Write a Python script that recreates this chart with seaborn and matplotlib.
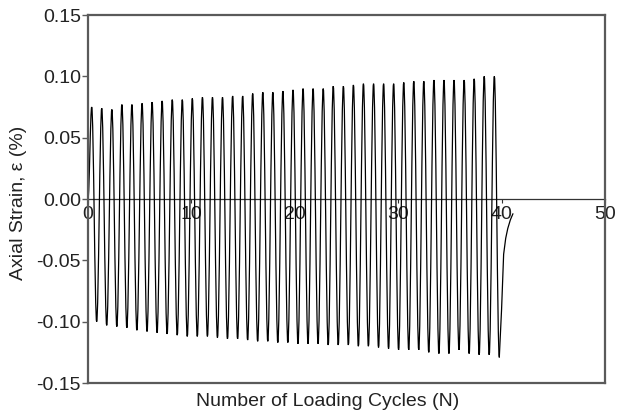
import numpy as np
import pandas as pd
import matplotlib
matplotlib.use("Agg")
import matplotlib.pyplot as plt
from matplotlib.path import Path
from matplotlib.patches import PathPatch
import seaborn as sns

# Cycle positions (N) of each strain peak and trough
peak_N = [0.36, 1.33, 2.31, 3.28, 4.25, 5.23, 6.20, 7.17, 8.15, 9.12,
          10.09, 11.07, 12.04, 13.01, 13.99, 14.96, 15.93, 16.91, 17.88, 18.85,
          19.83, 20.80, 21.77, 22.75, 23.72, 24.70, 25.67, 26.64, 27.62, 28.59,
          29.56, 30.54, 31.51, 32.48, 33.46, 34.43, 35.40, 36.38, 37.35, 38.32,
          39.30]
peak_strain = [0.075, 0.074, 0.073, 0.077, 0.077, 0.078, 0.079, 0.080, 0.081, 0.081,
               0.082, 0.083, 0.083, 0.083, 0.084, 0.084, 0.086, 0.087, 0.087, 0.088,
               0.089, 0.090, 0.090, 0.090, 0.092, 0.092, 0.093, 0.094, 0.094, 0.094,
               0.094, 0.095, 0.096, 0.096, 0.097, 0.097, 0.097, 0.097, 0.098, 0.100,
               0.100]

trough_N = [0.84, 1.81, 2.79, 3.76, 4.73, 5.71, 6.68, 7.65, 8.63, 9.60,
            10.57, 11.55, 12.52, 13.49, 14.47, 15.44, 16.41, 17.39, 18.36, 19.33,
            20.31, 21.28, 22.25, 23.23, 24.20, 25.18, 26.15, 27.12, 28.10, 29.07,
            30.04, 31.02, 31.99, 32.96, 33.94, 34.91, 35.88, 36.86, 37.83, 38.80,
            39.78]
trough_strain = [-0.100, -0.103, -0.104, -0.105, -0.107, -0.108, -0.109, -0.110, -0.111, -0.112,
                 -0.112, -0.112, -0.113, -0.114, -0.114, -0.115, -0.116, -0.116, -0.117, -0.117,
                 -0.118, -0.118, -0.118, -0.119, -0.119, -0.119, -0.120, -0.120, -0.121, -0.122,
                 -0.123, -0.123, -0.123, -0.125, -0.126, -0.126, -0.123, -0.126, -0.127, -0.127,
                 -0.129]

# Start of loading and unloading recovery after the last cycle
start_N = [0.0]
start_strain = [0.0]
tail_N = [39.78, 40.0, 40.2, 40.4, 40.6, 40.85, 41.1]
tail_strain = [-0.129, -0.090, -0.045, -0.032, -0.024, -0.017, -0.012]

x_ticks = [0, 10, 20, 30, 40, 50]
y_ticks = [-0.15, -0.10, -0.05, 0.00, 0.05, 0.10, 0.15]

# Turning points of the cyclic strain history: start, then alternating peaks/troughs
turn_N = list(start_N)
turn_e = list(start_strain)
for pn, pe, tn, te in zip(peak_N, peak_strain, trough_N, trough_strain):
    turn_N += [pn, tn]
    turn_e += [pe, te]
recovery = pd.DataFrame({"N": tail_N, "strain": tail_strain})

sns.set_theme(style="ticks")
plt.rcParams["font.family"] = ["Liberation Sans", "DejaVu Sans"]

fig = plt.figure(figsize=(6.17, 4.17), dpi=100)
ax = fig.add_axes([0.1426, 0.0815, 0.8379, 0.8825])

# Each half cycle is drawn as a smooth S-curve with horizontal tangents at the
# turning points (cubic Bezier segments in data coordinates).
k = 0.364
verts = [(turn_N[0], turn_e[0])]
codes = [Path.MOVETO]
for (x0, y0), (x1, y1) in zip(zip(turn_N[:-1], turn_e[:-1]), zip(turn_N[1:], turn_e[1:])):
    dx = x1 - x0
    verts += [(x0 + k * dx, y0), (x1 - k * dx, y1), (x1, y1)]
    codes += [Path.CURVE4] * 3
ax.add_patch(PathPatch(Path(verts, codes), facecolor="none", edgecolor="black",
                       linewidth=0.9))

sns.lineplot(data=recovery, x="N", y="strain", sort=False, estimator=None,
             color="black", linewidth=0.9, ax=ax)

ax.set_xlim(0, 50)
ax.set_ylim(-0.15, 0.15)

frame_color = "#5a5a5a"
for side in ["left", "right", "top", "bottom"]:
    ax.spines[side].set_visible(True)
    ax.spines[side].set_color(frame_color)
    ax.spines[side].set_linewidth(1.6)

ax.set_yticks(y_ticks)
ax.set_yticklabels([f"{v:.2f}" for v in y_ticks])
ax.tick_params(axis="y", direction="out", length=4, width=1.0, color=frame_color,
               labelsize=14, pad=1, labelcolor="#222222")

# x axis runs along the zero-strain line
ax.set_xticks([])
ax.set_xlabel("")
zero_axis = ax.secondary_xaxis(0.5)
zero_axis.set_xticks(x_ticks)
zero_axis.set_xticklabels([str(v) for v in x_ticks])
zero_axis.xaxis.set_ticks_position("bottom")
zero_axis.tick_params(axis="x", which="both", bottom=True, top=False,
                      labelbottom=True, labeltop=False, direction="out",
                      length=3, width=0.8, color="#333333",
                      labelsize=14, pad=2, labelcolor="#222222")
for side in ["top", "bottom"]:
    zero_axis.spines[side].set_color("#333333")
    zero_axis.spines[side].set_linewidth(0.9)

ax.set_xlabel("Number of Loading Cycles (N)", fontsize=14, color="#222222")
ax.xaxis.set_label_coords(0.464, -0.028)
ax.xaxis.label.set_va("top")
ax.set_ylabel("Axial Strain, ε (%)", fontsize=14, color="#222222")
ax.yaxis.set_label_coords(-0.118, 0.489)

fig.savefig("out.png", dpi=100)
